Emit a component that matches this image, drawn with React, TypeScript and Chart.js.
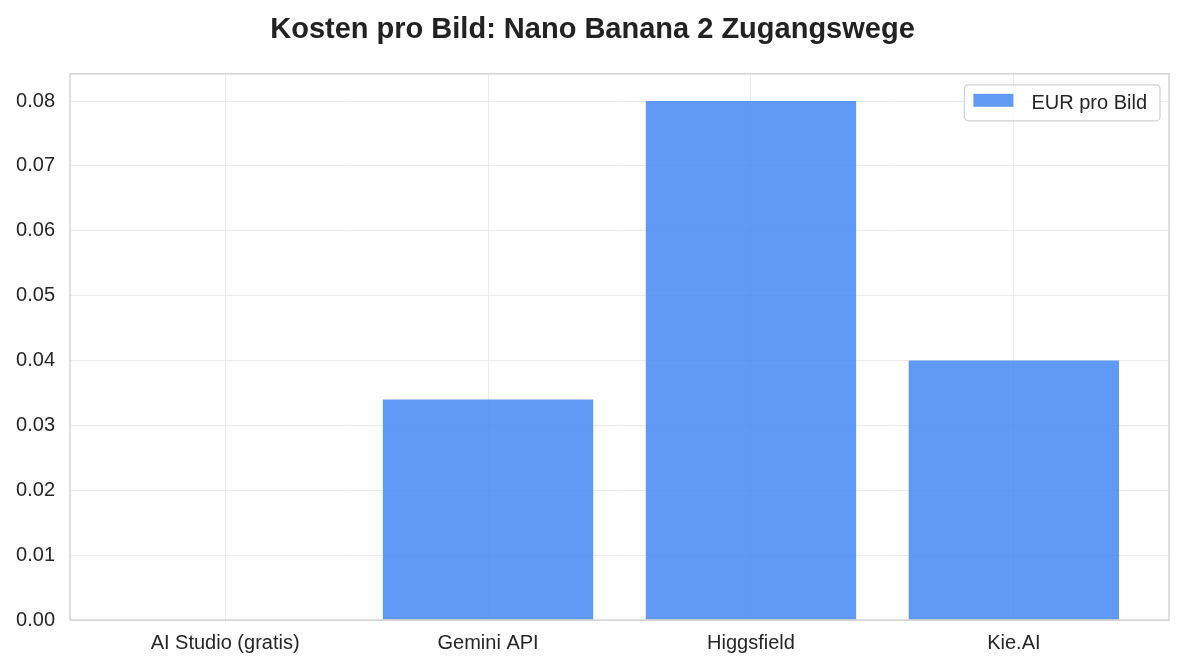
import { useRef, useEffect } from "react"
import { Chart, registerables } from "chart.js"

Chart.register(...registerables)

const categories = ["AI Studio (gratis)", "Gemini API", "Higgsfield", "Kie.AI"]
const eurPerImage = [0, 0.034, 0.08, 0.04]
const yTicks = [0, 0.01, 0.02, 0.03, 0.04, 0.05, 0.06, 0.07, 0.08]

const FONT = "'Liberation Sans', Arial, sans-serif"
const BAR_COLOR = "rgba(66, 133, 244, 0.84)"

// frame around the plot area + legend box inside the top right corner
const framePlugin = {
    id: "frame",
    afterDraw(chart: Chart) {
        const { ctx, chartArea } = chart
        ctx.save()
        ctx.strokeStyle = "#cccccc"
        ctx.lineWidth = 1.25
        ctx.strokeRect(chartArea.left, chartArea.top, chartArea.right - chartArea.left, chartArea.bottom - chartArea.top)

        const label = chart.data.datasets[0].label as string
        ctx.font = `20px ${FONT}`
        const textW = ctx.measureText(label).width
        const boxW = 9 + 40 + 18 + textW + 13
        const boxH = 36
        const x = chartArea.right - 9 - boxW
        const y = chartArea.top + 11
        ctx.fillStyle = "rgba(255,255,255,0.8)"
        ctx.strokeStyle = "#d0d0d0"
        ctx.lineWidth = 1.2
        ctx.beginPath()
        ctx.roundRect(x, y, boxW, boxH, 4)
        ctx.fill()
        ctx.stroke()
        ctx.fillStyle = BAR_COLOR
        ctx.fillRect(x + 9, y + 9, 40, 13)
        ctx.fillStyle = "#262626"
        ctx.textBaseline = "middle"
        ctx.fillText(label, x + 9 + 40 + 18, y + boxH / 2 + 1)
        ctx.restore()
    },
}

export default function App() {
    const chartRef = useRef<HTMLCanvasElement | null>(null)
    const chartInstance = useRef<Chart | null>(null)

    useEffect(() => {
        document.body.style.margin = "0"
        if (!chartRef.current) return
        if (chartInstance.current) chartInstance.current.destroy()
        const ctx = chartRef.current.getContext("2d")
        if (!ctx) return

        chartInstance.current = new Chart(ctx, {
            type: "bar",
            data: {
                datasets: [
                    {
                        label: "EUR pro Bild",
                        data: eurPerImage.map((v, i) => ({ x: i, y: v })),
                        backgroundColor: BAR_COLOR,
                        borderWidth: 0,
                        barPercentage: 0.8,
                        categoryPercentage: 1,
                    },
                ],
            },
            options: {
                animation: false,
                responsive: false,
                maintainAspectRatio: false,
                layout: { padding: 0 },
                plugins: {
                    legend: { display: false },
                    tooltip: { enabled: false },
                    title: {
                        display: true,
                        text: "Kosten pro Bild: Nano Banana 2 Zugangswege",
                        color: "#222222",
                        font: { family: FONT, size: 29, weight: "bold" },
                        padding: { top: 13, bottom: 26 },
                    },
                },
                scales: {
                    x: {
                        type: "linear",
                        offset: false,
                        min: -0.59,
                        max: 3.59,
                        afterBuildTicks: (scale) => {
                            scale.ticks = categories.map((_, i) => ({ value: i }))
                        },
                        afterFit: (scale) => {
                            scale.height = 49
                        },
                        ticks: {
                            callback: (v) => categories[Number(v)] ?? "",
                            color: "#262626",
                            font: { family: FONT, size: 20 },
                            padding: 11,
                            maxRotation: 0,
                            autoSkip: false,
                        },
                        grid: { color: "#ebebeb", lineWidth: 1, drawTicks: false, offset: false },
                        border: { display: false },
                    },
                    y: {
                        min: 0,
                        max: 0.0842,
                        afterBuildTicks: (scale) => {
                            scale.ticks = yTicks.map((v) => ({ value: v }))
                        },
                        afterFit: (scale) => {
                            scale.width = 70
                        },
                        ticks: {
                            callback: (v) => Number(v).toFixed(2),
                            color: "#262626",
                            font: { family: FONT, size: 20 },
                            padding: 15,
                        },
                        grid: { color: "#ebebeb", lineWidth: 1, drawTicks: false },
                        border: { display: false },
                    },
                    // empty right gutter so the title stays centred on the full canvas
                    yRight: {
                        position: "right",
                        min: 0,
                        max: 1,
                        afterFit: (scale) => {
                            scale.width = 16
                        },
                        ticks: { display: false },
                        grid: { display: false },
                        border: { display: false },
                    },
                },
            },
            plugins: [framePlugin],
        })

        return () => {
            if (chartInstance.current) {
                chartInstance.current.destroy()
                chartInstance.current = null
            }
        }
    }, [])

    return (
        <div style={{ width: 1185, height: 669, background: "#fff" }}>
            <canvas ref={chartRef} width={1185} height={669} style={{ width: 1185, height: 669 }} />
        </div>
    )
}
